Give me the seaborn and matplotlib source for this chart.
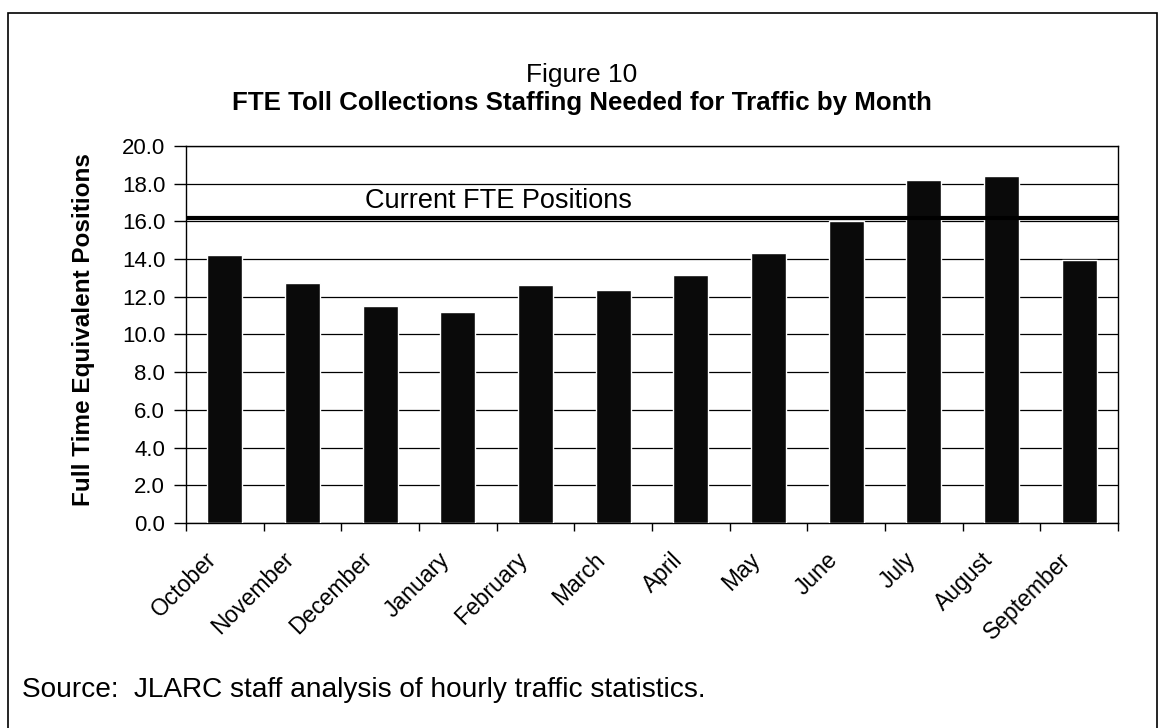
import matplotlib
matplotlib.use("Agg")
import matplotlib.pyplot as plt
import seaborn as sns
import pandas as pd
from matplotlib.patches import Rectangle
from matplotlib.ticker import MultipleLocator, FixedLocator, FormatStrFormatter
import matplotlib.transforms as mtransforms

months = ["October", "November", "December", "January", "February", "March",
          "April", "May", "June", "July", "August", "September"]
fte_needed = [14.2, 12.75, 11.5, 11.2, 12.6, 12.35, 13.15, 14.3, 16.0, 18.2, 18.4, 13.95]
current_fte = 16.2
current_label = "Current FTE Positions"
title_line1 = "Figure 10"
title_line2 = "FTE Toll Collections Staffing Needed for Traffic by Month"
y_label = "Full Time Equivalent Positions"
source_text = "Source:  JLARC staff analysis of hourly traffic statistics."

sns.set_theme(style="white")
plt.rcParams["font.family"] = ["Liberation Sans", "DejaVu Sans"]
plt.rcParams["text.color"] = "black"
plt.rcParams["axes.labelcolor"] = "black"
plt.rcParams["xtick.color"] = "black"
plt.rcParams["ytick.color"] = "black"

df = pd.DataFrame({"month": months, "fte": fte_needed})

fig = plt.figure(figsize=(11.64, 7.28), dpi=100)
ax = fig.add_axes([0.1598, 0.2816, 0.8007, 0.5179])

sns.barplot(data=df, x="month", y="fte", order=months, color="#0a0a0a",
            saturation=1, width=0.45, ax=ax, zorder=3)

ax.set_ylim(0, 20)
ax.set_xlim(-0.5, len(months) - 0.5)
ax.yaxis.set_major_locator(MultipleLocator(2))
ax.yaxis.set_major_formatter(FormatStrFormatter("%.1f"))
ax.grid(axis="y", color="black", linewidth=0.9, zorder=1)
ax.set_axisbelow(True)

ax.axhline(current_fte, color="black", linewidth=3.0, zorder=4)
trans = mtransforms.blended_transform_factory(ax.transAxes, ax.transData)
ax.text(0.192, current_fte + 0.2, current_label, transform=trans,
        fontsize=19.5, color="black", ha="left", va="bottom")

for s in ax.spines.values():
    s.set_color("black")
    s.set_linewidth(1.0)

ax.tick_params(axis="y", which="major", direction="out", length=9, width=1,
               color="black", labelsize=16, pad=6, left=True)
ax.set_xticks(range(len(months)))
ax.set_xticklabels(months, rotation=45, ha="right", rotation_mode="anchor",
                   fontsize=16.5)
ax.tick_params(axis="x", which="major", length=0, pad=18)
shift = mtransforms.ScaledTranslation(-20 / 100, 0, fig.dpi_scale_trans)
for lbl in ax.get_xticklabels():
    lbl.set_transform(lbl.get_transform() + shift)
ax.xaxis.set_minor_locator(FixedLocator([i - 0.5 for i in range(len(months) + 1)]))
ax.tick_params(axis="x", which="minor", direction="out", length=6, width=1,
               color="black", bottom=True)

ax.set_xlabel("")
ax.set_ylabel(y_label, fontsize=17.5, fontweight="bold")
ax.yaxis.set_label_coords((83 - 186) / 932, 0.513)
ax.yaxis.label.set_va("center")

fig.text(0.5, 0.897, title_line1, ha="center", va="center", fontsize=19)
fig.text(0.5, 0.858, title_line2, ha="center", va="center", fontsize=18.6,
         fontweight="bold")
fig.text(0.019, 0.052, source_text, ha="left", va="center", fontsize=20.2)

border = Rectangle((8 / 1164, -0.01), (1157 - 8) / 1164, 1.01 - 13 / 728,
                   transform=fig.transFigure, fill=False, edgecolor="black",
                   linewidth=1.2, clip_on=False)
fig.add_artist(border)

fig.savefig("out.png", dpi=100)
